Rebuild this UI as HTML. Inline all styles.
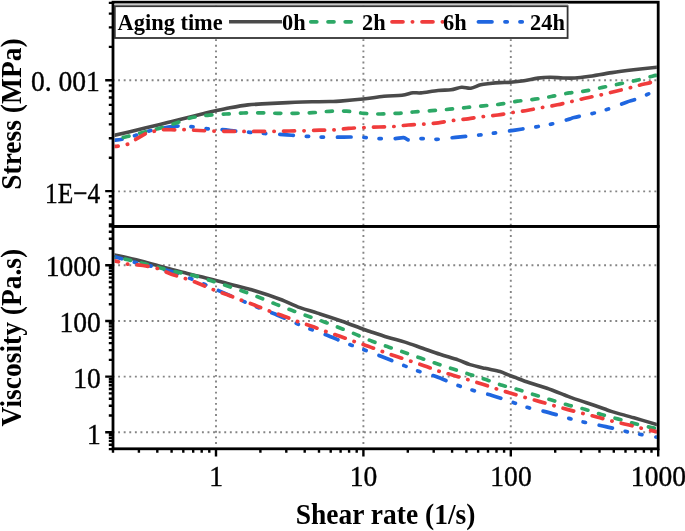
<!DOCTYPE html>
<html><head><meta charset="utf-8"><style>
html,body{margin:0;padding:0;background:#fff;}
svg{display:block;}
svg{will-change:transform;filter:blur(0.45px);}
</style></head><body>
<svg width="685" height="531" viewBox="0 0 685 531">
<rect width="685" height="531" fill="#fff"/>
<line x1="112.55" y1="80.3" x2="656.9" y2="80.3" stroke="#858585" stroke-width="1.9" stroke-dasharray="1.9 3.686" fill="none"/>
<line x1="112.55" y1="191.4" x2="656.9" y2="191.4" stroke="#858585" stroke-width="1.9" stroke-dasharray="1.9 3.686" fill="none"/>
<line x1="112.55" y1="265.3" x2="656.9" y2="265.3" stroke="#858585" stroke-width="1.9" stroke-dasharray="1.9 3.686" fill="none"/>
<line x1="112.55" y1="321.0" x2="656.9" y2="321.0" stroke="#858585" stroke-width="1.9" stroke-dasharray="1.9 3.686" fill="none"/>
<line x1="112.55" y1="376.6" x2="656.9" y2="376.6" stroke="#858585" stroke-width="1.9" stroke-dasharray="1.9 3.686" fill="none"/>
<line x1="112.55" y1="432.3" x2="656.9" y2="432.3" stroke="#858585" stroke-width="1.9" stroke-dasharray="1.9 3.686" fill="none"/>
<line x1="216.0" y1="5.64" x2="216.0" y2="447.5" stroke="#858585" stroke-width="1.9" stroke-dasharray="1.9 3.695" fill="none"/>
<line x1="363.4" y1="5.64" x2="363.4" y2="447.5" stroke="#858585" stroke-width="1.9" stroke-dasharray="1.9 3.695" fill="none"/>
<line x1="510.8" y1="5.64" x2="510.8" y2="447.5" stroke="#858585" stroke-width="1.9" stroke-dasharray="1.9 3.695" fill="none"/>
<clipPath id="cu"><rect x="114.6" y="3.5" width="542.2" height="221.2"/></clipPath>
<clipPath id="cl"><rect x="114.6" y="227.4" width="542.2" height="220"/></clipPath>
<g clip-path="url(#cu)" fill="none" stroke-width="3.7" stroke-linecap="round" stroke-linejoin="round">
<path d="M113.00,135.60C116.83,134.70 128.17,132.07 136.00,130.20C143.83,128.33 154.00,125.87 160.00,124.40C166.00,122.93 167.50,122.52 172.00,121.40C176.50,120.28 182.00,118.93 187.00,117.70C192.00,116.47 197.25,115.15 202.00,114.00C206.75,112.85 210.83,111.83 215.50,110.80C220.17,109.77 224.58,108.78 230.00,107.80C235.42,106.82 242.67,105.55 248.00,104.90C253.33,104.25 257.08,104.20 262.00,103.90C266.92,103.60 272.00,103.37 277.50,103.10C283.00,102.83 289.25,102.52 295.00,102.30C300.75,102.08 306.17,101.93 312.00,101.80C317.83,101.67 325.33,101.62 330.00,101.50C334.67,101.38 334.50,101.52 340.00,101.10C345.50,100.68 355.67,99.80 363.00,99.00C370.33,98.20 377.50,96.92 384.00,96.30C390.50,95.68 397.17,95.88 402.00,95.30C406.83,94.72 409.83,93.20 413.00,92.80C416.17,92.40 416.83,93.28 421.00,92.90C425.17,92.52 433.00,91.02 438.00,90.50C443.00,89.98 447.07,90.35 451.00,89.80C454.93,89.25 458.30,87.47 461.60,87.20C464.90,86.93 467.62,88.60 470.80,88.20C473.98,87.80 477.50,85.58 480.70,84.80C483.90,84.02 486.78,83.87 490.00,83.50C493.22,83.13 496.57,82.80 500.00,82.60C503.43,82.40 506.60,82.60 510.60,82.30C514.60,82.00 519.43,81.50 524.00,80.80C528.57,80.10 533.67,78.68 538.00,78.10C542.33,77.52 545.83,77.32 550.00,77.30C554.17,77.28 558.83,77.88 563.00,78.00C567.17,78.12 570.83,78.25 575.00,78.00C579.17,77.75 581.83,77.40 588.00,76.50C594.17,75.60 604.42,73.72 612.00,72.60C619.58,71.48 626.00,70.70 633.50,69.80C641.00,68.90 653.08,67.63 657.00,67.20" stroke="#4a4a4a" stroke-width="3.6"/>
<path d="M113.50,140.30C115.05,140.10 119.25,139.87 122.80,139.10C126.35,138.33 130.28,137.08 134.80,135.70C139.32,134.32 144.30,132.23 149.90,130.80C155.50,129.37 163.57,127.90 168.40,127.10C173.23,126.30 175.30,126.10 178.90,126.00C182.50,125.90 185.18,126.03 190.00,126.50C194.82,126.97 202.40,128.28 207.80,128.80C213.20,129.32 217.63,129.22 222.40,129.60C227.17,129.98 231.83,130.65 236.40,131.10C240.97,131.55 245.13,131.90 249.80,132.30C254.47,132.70 258.22,133.07 264.40,133.50C270.58,133.93 279.65,134.42 286.90,134.90C294.15,135.38 301.88,136.02 307.90,136.40C313.92,136.78 318.03,137.07 323.00,137.20C327.97,137.33 332.88,137.23 337.70,137.20C342.52,137.17 347.35,136.95 351.90,137.00C356.45,137.05 360.18,137.22 365.00,137.50C369.82,137.78 375.97,138.50 380.80,138.70C385.63,138.90 390.20,138.88 394.00,138.70C397.80,138.52 401.13,137.38 403.60,137.60C406.07,137.82 405.88,139.83 408.80,140.00C411.72,140.17 416.42,138.72 421.10,138.60C425.78,138.48 430.75,139.55 436.90,139.30C443.05,139.05 450.93,137.82 458.00,137.10C465.07,136.38 473.30,135.67 479.30,135.00C485.30,134.33 488.02,133.92 494.00,133.10C499.98,132.28 508.15,131.15 515.20,130.10C522.25,129.05 530.28,127.80 536.30,126.80C542.32,125.80 545.78,125.38 551.30,124.10C556.82,122.82 565.58,120.20 569.40,119.10C573.22,118.00 570.33,118.43 574.20,117.50C578.07,116.57 587.07,114.87 592.60,113.50C598.13,112.13 601.75,111.18 607.40,109.30C613.05,107.42 622.00,103.80 626.50,102.20C631.00,100.60 630.97,100.98 634.40,99.70C637.83,98.42 643.33,96.12 647.10,94.50C650.87,92.88 655.35,90.75 657.00,90.00" stroke="#1f66e0" stroke-dasharray="13.6 12.95 2.3 12.7 2.3 13.95" stroke-dashoffset="5.0"/>
<path d="M113.50,139.50C115.80,139.00 122.62,137.63 127.30,136.50C131.98,135.37 136.45,134.02 141.60,132.70C146.75,131.38 152.57,130.17 158.20,128.60C163.83,127.03 170.20,125.03 175.40,123.30C180.60,121.57 185.30,119.37 189.40,118.20C193.50,117.03 196.65,116.82 200.00,116.30C203.35,115.78 205.18,115.48 209.50,115.10C213.82,114.72 220.25,114.35 225.90,114.00C231.55,113.65 237.57,113.20 243.40,113.00C249.23,112.80 255.22,112.75 260.90,112.80C266.58,112.85 271.82,113.22 277.50,113.30C283.18,113.38 289.15,113.40 295.00,113.30C300.85,113.20 306.85,113.03 312.60,112.70C318.35,112.37 323.83,111.55 329.50,111.30C335.17,111.05 340.90,110.87 346.60,111.20C352.30,111.53 358.08,112.83 363.70,113.30C369.32,113.77 374.68,114.00 380.30,114.00C385.92,114.00 391.90,113.63 397.40,113.30C402.90,112.97 407.55,112.43 413.30,112.00C419.05,111.57 425.85,111.17 431.90,110.70C437.95,110.23 443.83,109.73 449.60,109.20C455.37,108.67 460.85,108.07 466.50,107.50C472.15,106.93 477.92,106.35 483.50,105.80C489.08,105.25 494.35,104.97 500.00,104.20C505.65,103.43 511.60,102.03 517.40,101.20C523.20,100.37 529.15,99.98 534.80,99.20C540.45,98.42 545.53,97.55 551.30,96.50C557.07,95.45 563.70,93.83 569.40,92.90C575.10,91.97 579.98,91.82 585.50,90.90C591.02,89.98 596.85,88.57 602.50,87.40C608.15,86.23 613.77,85.07 619.40,83.90C625.03,82.73 630.82,81.68 636.30,80.40C641.78,79.12 648.85,77.07 652.30,76.20C655.75,75.33 656.22,75.37 657.00,75.20" stroke="#2da866" stroke-dasharray="6 11.2" stroke-dashoffset="7.3"/>
<path d="M113.50,146.50C114.55,146.40 117.43,146.28 119.80,145.90C122.17,145.52 125.07,145.27 127.70,144.20C130.33,143.13 132.53,141.30 135.60,139.50C138.67,137.70 142.97,134.78 146.10,133.40C149.23,132.02 151.65,131.80 154.40,131.20C157.15,130.60 159.10,130.03 162.60,129.80C166.10,129.57 171.80,129.82 175.40,129.80C179.00,129.78 180.27,129.58 184.20,129.70C188.13,129.82 194.00,130.27 199.00,130.50C204.00,130.73 209.13,130.95 214.20,131.10C219.27,131.25 224.43,131.35 229.40,131.40C234.37,131.45 238.95,131.40 244.00,131.40C249.05,131.40 254.70,131.40 259.70,131.40C264.70,131.40 269.08,131.47 274.00,131.40C278.92,131.33 284.13,131.10 289.20,131.00C294.27,130.90 299.33,130.93 304.40,130.80C309.47,130.67 314.67,130.35 319.60,130.20C324.53,130.05 329.18,130.20 334.00,129.90C338.82,129.60 343.55,128.78 348.50,128.40C353.45,128.02 358.62,127.83 363.70,127.60C368.78,127.37 373.95,127.18 379.00,127.00C384.05,126.82 389.10,126.83 394.00,126.50C398.90,126.17 403.50,125.38 408.40,125.00C413.30,124.62 418.42,124.57 423.40,124.20C428.38,123.83 433.35,123.42 438.30,122.80C443.25,122.18 448.15,121.17 453.10,120.50C458.05,119.83 463.05,119.45 468.00,118.80C472.95,118.15 477.83,117.23 482.80,116.60C487.77,115.97 492.78,115.68 497.80,115.00C502.82,114.32 507.87,113.30 512.90,112.50C517.93,111.70 523.10,111.03 528.00,110.20C532.90,109.37 537.40,108.40 542.30,107.50C547.20,106.60 552.50,105.80 557.40,104.80C562.30,103.80 566.90,102.63 571.70,101.50C576.50,100.37 581.32,99.10 586.20,98.00C591.08,96.90 596.05,96.03 601.00,94.90C605.95,93.77 611.07,92.38 615.90,91.20C620.73,90.02 626.13,88.78 630.00,87.80C633.87,86.82 635.62,86.18 639.10,85.30C642.58,84.42 647.92,83.25 650.90,82.50C653.88,81.75 655.98,81.08 657.00,80.80" stroke="#f03c3c" stroke-dasharray="11 9.35 0.3 9.35" stroke-dashoffset="6.3"/>
</g>
<g clip-path="url(#cl)" fill="none" stroke-width="3.7" stroke-linecap="round" stroke-linejoin="round">
<path d="M113.00,254.60C117.50,255.62 131.12,258.45 140.00,260.70C148.88,262.95 158.42,265.98 166.30,268.10C174.18,270.22 181.68,271.98 187.30,273.40C192.92,274.82 195.38,275.47 200.00,276.60C204.62,277.73 210.00,278.93 215.00,280.20C220.00,281.47 223.37,282.43 230.00,284.20C236.63,285.97 246.47,288.30 254.80,290.80C263.13,293.30 272.47,296.40 280.00,299.20C287.53,302.00 293.75,305.28 300.00,307.60C306.25,309.92 310.50,310.83 317.50,313.10C324.50,315.37 334.92,318.72 342.00,321.20C349.08,323.68 355.33,326.28 360.00,328.00C364.67,329.72 365.42,329.95 370.00,331.50C374.58,333.05 381.67,335.53 387.50,337.30C393.33,339.07 399.15,340.28 405.00,342.10C410.85,343.92 416.77,346.17 422.60,348.20C428.43,350.23 434.10,352.35 440.00,354.30C445.90,356.25 453.00,358.18 458.00,359.90C463.00,361.62 465.50,363.20 470.00,364.60C474.50,366.00 480.00,367.15 485.00,368.30C490.00,369.45 496.23,370.45 500.00,371.50C503.77,372.55 505.10,373.62 507.60,374.60C510.10,375.58 511.35,376.03 515.00,377.40C518.65,378.77 524.17,381.00 529.50,382.80C534.83,384.60 541.15,386.17 547.00,388.20C552.85,390.23 560.43,393.38 564.60,395.00C568.77,396.62 568.35,396.62 572.00,397.90C575.65,399.18 581.17,400.88 586.50,402.70C591.83,404.52 599.75,407.32 604.00,408.80C608.25,410.28 607.02,410.10 612.00,411.60C616.98,413.10 626.43,415.65 633.90,417.80C641.37,419.95 652.98,423.38 656.80,424.50" stroke="#4a4a4a" stroke-width="3.6"/>
<path d="M113.50,256.80C114.25,256.97 114.42,256.87 118.00,257.80C121.58,258.73 129.45,261.00 135.00,262.40C140.55,263.80 146.43,264.98 151.30,266.20C156.17,267.42 160.08,268.57 164.20,269.70C168.32,270.83 171.72,271.57 176.00,273.00C180.28,274.43 185.07,276.38 189.90,278.30C194.73,280.22 200.22,282.45 205.00,284.50C209.78,286.55 212.08,287.75 218.60,290.60C225.12,293.45 237.53,298.78 244.10,301.60C250.67,304.42 253.18,305.55 258.00,307.50C262.82,309.45 266.55,310.62 273.00,313.30C279.45,315.98 290.42,320.93 296.70,323.60C302.98,326.27 305.98,327.48 310.70,329.30C315.42,331.12 318.42,331.93 325.00,334.50C331.58,337.07 343.60,342.12 350.20,344.70C356.80,347.28 359.47,348.08 364.60,350.00C369.73,351.92 374.42,353.60 381.00,356.20C387.58,358.80 397.80,363.08 404.10,365.60C410.40,368.12 413.48,369.47 418.80,371.30C424.12,373.13 429.30,374.18 436.00,376.60C442.70,379.02 452.70,383.47 459.00,385.80C465.30,388.13 468.30,389.00 473.80,390.60C479.30,392.20 485.23,393.35 492.00,395.40C498.77,397.45 508.22,400.82 514.40,402.90C520.58,404.98 523.33,406.28 529.10,407.90C534.87,409.52 542.05,410.77 549.00,412.60C555.95,414.43 564.80,417.27 570.80,418.90C576.80,420.53 579.17,421.12 585.00,422.40C590.83,423.68 598.87,425.07 605.80,426.60C612.73,428.13 620.63,430.27 626.60,431.60C632.57,432.93 636.62,433.68 641.60,434.60C646.58,435.52 654.02,436.68 656.50,437.10" stroke="#1f66e0" stroke-dasharray="13.6 12.95 2.3 12.7 2.3 13.95" stroke-dashoffset="5.1"/>
<path d="M113.50,257.20C115.93,257.63 123.02,258.73 128.10,259.80C133.18,260.87 138.60,262.23 144.00,263.60C149.40,264.97 154.67,266.52 160.50,268.00C166.33,269.48 173.28,271.18 179.00,272.50C184.72,273.82 189.43,274.52 194.80,275.90C200.17,277.28 205.77,279.12 211.20,280.80C216.63,282.48 222.00,284.22 227.40,286.00C232.80,287.78 238.27,289.58 243.60,291.50C248.93,293.42 254.07,295.40 259.40,297.50C264.73,299.60 270.22,301.97 275.60,304.10C280.98,306.23 286.28,308.28 291.70,310.30C297.12,312.32 302.67,314.27 308.10,316.20C313.53,318.13 318.98,319.93 324.30,321.90C329.62,323.87 334.65,325.88 340.00,328.00C345.35,330.12 351.05,332.40 356.40,334.60C361.75,336.80 366.78,339.15 372.10,341.20C377.42,343.25 382.88,345.02 388.30,346.90C393.72,348.78 399.22,350.63 404.60,352.50C409.98,354.37 415.20,356.22 420.60,358.10C426.00,359.98 431.57,361.97 437.00,363.80C442.43,365.63 447.75,367.33 453.20,369.10C458.65,370.87 464.25,372.65 469.70,374.40C475.15,376.15 480.47,377.78 485.90,379.60C491.33,381.42 496.82,383.60 502.30,385.30C507.78,387.00 513.32,388.18 518.80,389.80C524.28,391.42 529.73,393.28 535.20,395.00C540.67,396.72 546.13,398.43 551.60,400.10C557.07,401.77 562.47,403.47 568.00,405.00C573.53,406.53 579.23,407.72 584.80,409.30C590.37,410.88 595.93,412.90 601.40,414.50C606.87,416.10 612.07,417.38 617.60,418.90C623.13,420.42 628.95,422.15 634.60,423.60C640.25,425.05 647.77,426.77 651.50,427.60C655.23,428.43 656.08,428.43 657.00,428.60" stroke="#2da866" stroke-dasharray="6 11.2" stroke-dashoffset="5.7"/>
<path d="M113.50,260.60C114.58,260.87 117.53,261.60 120.00,262.20C122.47,262.80 124.50,263.65 128.30,264.20C132.10,264.75 137.98,264.80 142.80,265.50C147.62,266.20 152.43,266.95 157.20,268.40C161.97,269.85 166.75,272.52 171.40,274.20C176.05,275.88 180.45,276.92 185.10,278.50C189.75,280.08 194.63,281.85 199.30,283.70C203.97,285.55 208.42,287.75 213.10,289.60C217.78,291.45 222.72,293.03 227.40,294.80C232.08,296.57 236.52,298.43 241.20,300.20C245.88,301.97 250.78,303.58 255.50,305.40C260.22,307.22 264.75,309.30 269.50,311.10C274.25,312.90 279.32,314.47 284.00,316.20C288.68,317.93 292.97,319.82 297.60,321.50C302.23,323.18 307.08,324.63 311.80,326.30C316.52,327.97 321.20,329.83 325.90,331.50C330.60,333.17 335.27,334.63 340.00,336.30C344.73,337.97 349.60,339.85 354.30,341.50C359.00,343.15 363.53,344.53 368.20,346.20C372.87,347.87 377.67,349.82 382.30,351.50C386.93,353.18 391.27,354.68 396.00,356.30C400.73,357.92 405.88,359.58 410.70,361.20C415.52,362.82 420.23,364.35 424.90,366.00C429.57,367.65 434.02,369.57 438.70,371.10C443.38,372.63 448.17,373.78 453.00,375.20C457.83,376.62 462.88,378.13 467.70,379.60C472.52,381.07 477.15,382.47 481.90,384.00C486.65,385.53 491.52,387.30 496.20,388.80C500.88,390.30 505.18,391.55 510.00,393.00C514.82,394.45 520.13,396.07 525.10,397.50C530.07,398.93 534.98,400.23 539.80,401.60C544.62,402.97 549.30,404.37 554.00,405.70C558.70,407.03 563.17,408.30 568.00,409.60C572.83,410.90 578.05,412.23 583.00,413.50C587.95,414.77 592.88,415.93 597.70,417.20C602.52,418.47 607.05,419.88 611.90,421.10C616.75,422.32 621.92,423.32 626.80,424.50C631.68,425.68 636.83,427.13 641.20,428.20C645.57,429.27 650.37,430.32 653.00,430.90C655.63,431.48 656.33,431.57 657.00,431.70" stroke="#f03c3c" stroke-dasharray="11 9.35 0.3 9.35" stroke-dashoffset="5.9"/>
</g>
<g stroke="#000" stroke-width="2.8" fill="none">
<rect x="113.0" y="2.2" width="545.2" height="224.2"/>
<rect x="113.0" y="226.4" width="545.2" height="222.4"/>
</g>
<path d="M108.8,224.5H113.0M108.8,215.7H113.0M108.8,208.3H113.0M108.8,201.8H113.0M108.8,196.2H113.0M105.2,191.1H113.0M108.8,157.7H113.0M108.8,138.2H113.0M108.8,124.4H113.0M108.8,113.7H113.0M108.8,104.9H113.0M108.8,97.5H113.0M108.8,91.0H113.0M108.8,85.4H113.0M105.2,80.3H113.0M108.8,46.9H113.0M108.8,27.4H113.0M108.8,13.6H113.0M108.8,2.9H113.0M108.8,449.1H113.0M108.8,444.7H113.0M108.8,440.9H113.0M108.8,437.7H113.0M108.8,434.8H113.0M105.2,432.3H113.0M108.8,415.5H113.0M108.8,405.7H113.0M108.8,398.8H113.0M108.8,393.4H113.0M108.8,389.0H113.0M108.8,385.3H113.0M108.8,382.0H113.0M108.8,379.2H113.0M105.2,376.6H113.0M108.8,359.9H113.0M108.8,350.1H113.0M108.8,343.1H113.0M108.8,337.7H113.0M108.8,333.3H113.0M108.8,329.6H113.0M108.8,326.4H113.0M108.8,323.5H113.0M105.2,321.0H113.0M108.8,304.2H113.0M108.8,294.4H113.0M108.8,287.4H113.0M108.8,282.0H113.0M108.8,277.6H113.0M108.8,273.9H113.0M108.8,270.7H113.0M108.8,267.8H113.0M105.2,265.3H113.0M108.8,248.5H113.0M108.8,238.7H113.0M108.8,231.8H113.0M108.8,226.4H113.0M113.0,448.8V452.8M138.9,448.8V452.8M157.3,448.8V452.8M171.6,448.8V452.8M183.3,448.8V452.8M193.2,448.8V452.8M201.7,448.8V452.8M209.3,448.8V452.8M216.0,448.8V456.6M260.4,448.8V452.8M286.3,448.8V452.8M304.7,448.8V452.8M319.0,448.8V452.8M330.7,448.8V452.8M340.6,448.8V452.8M349.1,448.8V452.8M356.7,448.8V452.8M363.4,448.8V456.6M407.8,448.8V452.8M433.7,448.8V452.8M452.1,448.8V452.8M466.4,448.8V452.8M478.1,448.8V452.8M488.0,448.8V452.8M496.5,448.8V452.8M504.1,448.8V452.8M510.8,448.8V456.6M555.2,448.8V452.8M581.1,448.8V452.8M599.5,448.8V452.8M613.8,448.8V452.8M625.5,448.8V452.8M635.4,448.8V452.8M643.9,448.8V452.8M651.5,448.8V452.8M658.2,448.8V456.6" stroke="#000" stroke-width="2.4" fill="none"/>
<text transform="translate(99.8,91.3) scale(1.04,1.12)" text-anchor="end" font-family="Liberation Serif" font-size="26.5" fill="#000" stroke="#000" stroke-width="0.35">0. 001</text>
<text transform="translate(100.3,202.6) scale(0.96,1.12)" text-anchor="end" font-family="Liberation Serif" font-size="26.5" fill="#000" stroke="#000" stroke-width="0.35">1E−4</text>
<text transform="translate(100.8,276.3) scale(1.04,1.12)" text-anchor="end" font-family="Liberation Serif" font-size="26.5" fill="#000" stroke="#000" stroke-width="0.35">1000</text>
<text transform="translate(100.8,332.2) scale(1.04,1.12)" text-anchor="end" font-family="Liberation Serif" font-size="26.5" fill="#000" stroke="#000" stroke-width="0.35">100</text>
<text transform="translate(100.8,388.0) scale(1.04,1.12)" text-anchor="end" font-family="Liberation Serif" font-size="26.5" fill="#000" stroke="#000" stroke-width="0.35">10</text>
<text transform="translate(100.8,444.0) scale(1.04,1.12)" text-anchor="end" font-family="Liberation Serif" font-size="26.5" fill="#000" stroke="#000" stroke-width="0.35">1</text>
<text transform="translate(216.2,485.5) scale(1.04,1.12)" text-anchor="middle" font-family="Liberation Serif" font-size="26.5" fill="#000" stroke="#000" stroke-width="0.35">1</text>
<text transform="translate(363.6,485.5) scale(1.04,1.12)" text-anchor="middle" font-family="Liberation Serif" font-size="26.5" fill="#000" stroke="#000" stroke-width="0.35">10</text>
<text transform="translate(511.0,485.5) scale(1.04,1.12)" text-anchor="middle" font-family="Liberation Serif" font-size="26.5" fill="#000" stroke="#000" stroke-width="0.35">100</text>
<text transform="translate(658.4,485.5) scale(1.04,1.12)" text-anchor="middle" font-family="Liberation Serif" font-size="26.5" fill="#000" stroke="#000" stroke-width="0.35">1000</text>
<text transform="translate(21.2,114.1) rotate(-90) scale(1,1.05)" text-anchor="middle" font-family="Liberation Serif" font-size="27.5" font-weight="bold" fill="#000">Stress (MPa)</text>
<text transform="translate(21.2,337.6) rotate(-90) scale(1,1.05)" text-anchor="middle" font-family="Liberation Serif" font-size="27.5" font-weight="bold" fill="#000">Viscosity (Pa.s)</text>
<text transform="translate(385.6,523.7) scale(1,1.05)" text-anchor="middle" font-family="Liberation Serif" font-size="27.5" font-weight="bold" fill="#000">Shear rate (1/s)</text>
<rect x="114.5" y="3.6" width="453.5" height="1.6" fill="#c8c8c8"/>
<rect x="114.8" y="6.2" width="452.8" height="31.8" fill="#fff" stroke="#333" stroke-width="1.8"/>
<text x="117.6" y="29.9" font-family="Liberation Serif" font-size="22.4" font-weight="bold" fill="#000">Aging time</text>
<line x1="229" y1="21.8" x2="282" y2="21.8" stroke="#4a4a4a" stroke-width="3.6"/>
<text x="282" y="29.8" font-family="Liberation Serif" font-size="22.4" font-weight="bold" fill="#000">0h</text>
<line x1="310.8" y1="21.8" x2="351.5" y2="21.8" stroke="#2da866" stroke-width="3.7" stroke-linecap="round" stroke-dasharray="6 11.2"/>
<text x="362" y="29.8" font-family="Liberation Serif" font-size="22.4" font-weight="bold" fill="#000">2h</text>
<line x1="392" y1="21.8" x2="443" y2="21.8" stroke="#f03c3c" stroke-width="3.7" stroke-linecap="round" stroke-dasharray="11 9.35 0.3 9.35"/>
<text x="443" y="29.8" font-family="Liberation Serif" font-size="22.4" font-weight="bold" fill="#000">6h</text>
<line x1="478.4" y1="21.8" x2="523" y2="21.8" stroke="#1f66e0" stroke-width="3.7" stroke-linecap="round" stroke-dasharray="13.6 12.95 2.3 12.7 2.3 13.95"/>
<text x="530" y="29.8" font-family="Liberation Serif" font-size="22.4" font-weight="bold" fill="#000">24h</text>
</svg>
</body></html>
